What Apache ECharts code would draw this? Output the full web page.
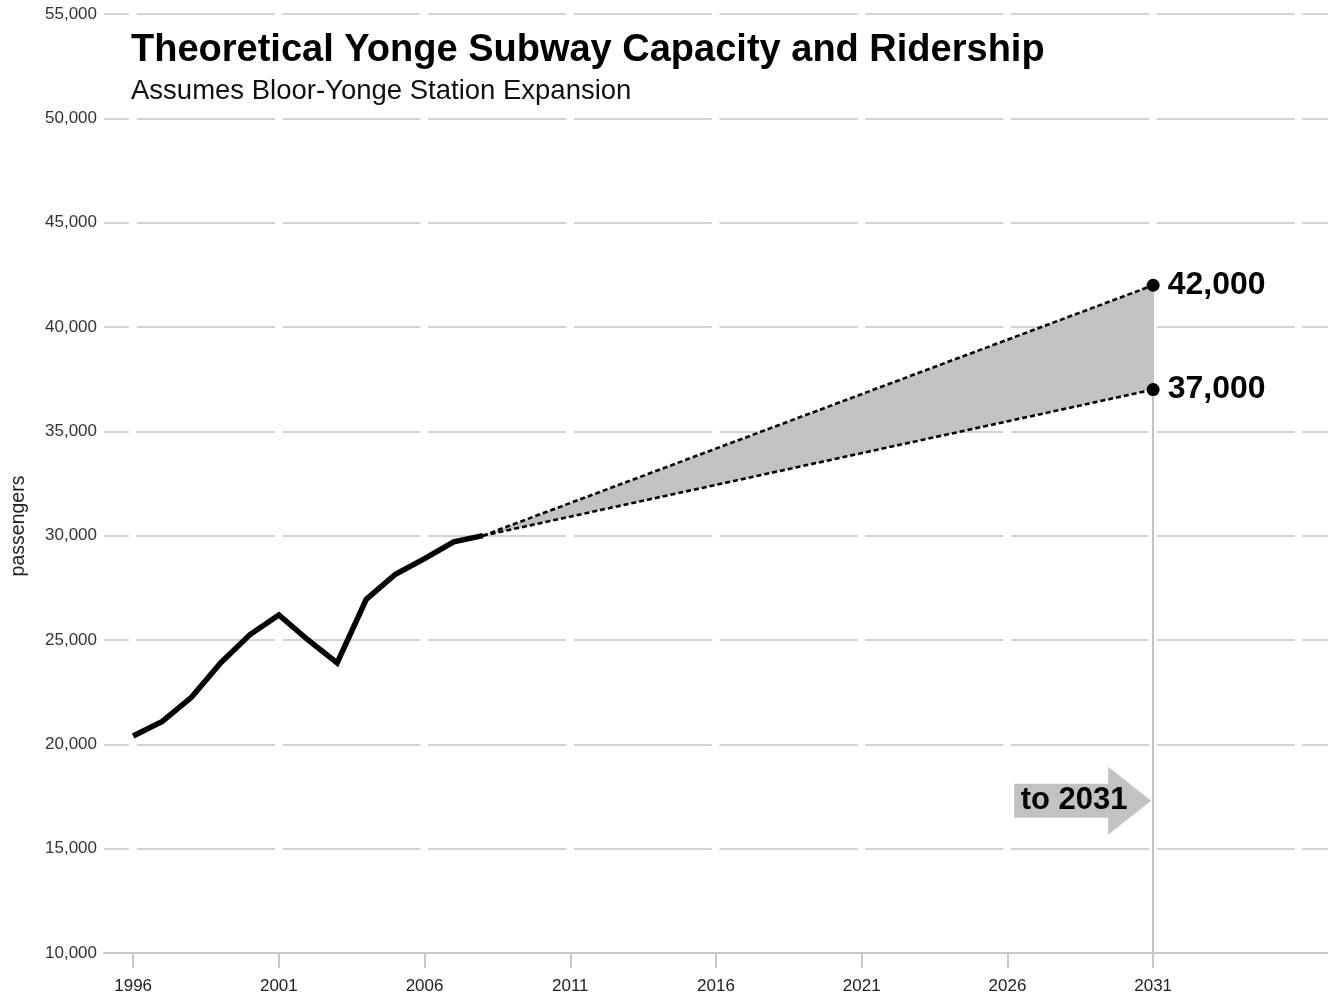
<!DOCTYPE html>
<html><head><meta charset="utf-8">
<script src="https://cdn.jsdelivr.net/npm/echarts@6/dist/echarts.min.js"></script>
<style>html,body{margin:0;padding:0;background:#fff}#c{width:1328px;height:996px}</style>
</head><body><div id="c"></div>
<script>
// ---- data ----
const years = [1996,1997,1998,1999,2000,2001,2002,2003,2004,2005,2006,2007,2008];
const ridership = [20400,21100,22250,23900,25250,26200,25000,23900,26950,28150,28900,29700,30000];
const projYears = [2008, 2031];
const projHigh = [30000, 42000];
const projLow = [30000, 37000];
const tickYears = [1996,2001,2006,2011,2016,2021,2026,2031];
const yMin = 10000, yMax = 55000, yStep = 5000;
const xMin = 1995, xMax = 2037;
const titleText = 'Theoretical Yonge Subway Capacity and Ridership';
const subtitleText = 'Assumes Bloor-Yonge Station Expansion';
const yName = 'passengers';
const arrowText = 'to 2031';
const arrowAt = [2031, 17300];

const FONT = '"Liberation Sans", Arial, Helvetica, sans-serif';
const GRAY = '#c2c2c2';
const fmt = v => v.toLocaleString('en-US');

const chart = echarts.init(document.getElementById('c'), null, {renderer: 'canvas'});

const lastIdx = projYears.length - 1;
function projPoints(vals) {
  return projYears.map((y, i) => ({
    value: [y, vals[i]],
    symbol: i === lastIdx ? 'circle' : 'none',
    label: {show: i === lastIdx}
  }));
}

chart.setOption({
  animation: false,
  textStyle: {fontFamily: FONT},
  title: {
    text: titleText,
    subtext: subtitleText,
    left: 126,
    top: 27,
    itemGap: 7,
    textStyle: {fontFamily: FONT, fontSize: 38, fontWeight: 'bold', color: '#000'},
    subtextStyle: {fontFamily: FONT, fontSize: 27.5, color: '#111'}
  },
  grid: {left: 104, right: 0, top: 14, bottom: 43, containLabel: false},
  xAxis: {
    type: 'value', min: xMin, max: xMax,
    axisLine: {show: true, lineStyle: {color: '#c8c8c8', width: 2}},
    axisTick: {show: true, customValues: tickYears, length: 15, lineStyle: {color: '#c8c8c8', width: 2}},
    axisLabel: {customValues: tickYears, fontSize: 17, color: '#222', margin: 25, fontFamily: FONT, formatter: v => String(v)},
    splitLine: {show: false}
  },
  yAxis: {
    type: 'value', min: yMin, max: yMax, interval: yStep,
    axisLine: {show: false}, axisTick: {show: false},
    axisLabel: {fontSize: 17, color: '#333', margin: 7, fontFamily: FONT, formatter: v => fmt(v)},
    splitLine: {show: true, lineStyle: {color: '#d2d2d2', width: 2, type: [138, 7.71], dashOffset: 113}}
  },
  series: [
    {
      type: 'custom', name: 'band', z: 1, silent: true,
      data: projYears.map((y, i) => [y, projLow[i], projHigh[i]]),
      encode: {x: 0, y: [1, 2]},
      renderItem: function (params, api) {
        if (params.dataIndex !== 0) return null;
        const pts = [];
        for (let i = 0; i < projYears.length; i++) pts.push(api.coord([projYears[i], projHigh[i]]));
        for (let i = projYears.length - 1; i >= 0; i--) pts.push(api.coord([projYears[i], projLow[i]]));
        return {type: 'polygon', shape: {points: pts}, style: {fill: GRAY}};
      }
    },
    {
      type: 'line', name: 'high', z: 3, silent: true,
      data: projPoints(projHigh),
      symbolSize: 13, showSymbol: true,
      itemStyle: {color: '#000'},
      lineStyle: {color: '#000', width: 2.6, type: [5, 3]},
      label: {position: 'right', distance: 8, fontSize: 32, fontWeight: 'bold', color: '#000', fontFamily: FONT,
              formatter: p => fmt(p.value[1])},
      markLine: {
        silent: true, symbol: 'none', z: 0,
        label: {show: false},
        lineStyle: {color: GRAY, width: 2, type: 'solid'},
        data: [[{coord: [projYears[lastIdx], yMin]}, {coord: [projYears[lastIdx], projHigh[lastIdx]]}]]
      }
    },
    {
      type: 'line', name: 'low', z: 3, silent: true,
      data: projPoints(projLow),
      symbolSize: 13, showSymbol: true,
      itemStyle: {color: '#000'},
      lineStyle: {color: '#000', width: 2.6, type: [5, 3]},
      label: {position: 'right', distance: 8, fontSize: 32, fontWeight: 'bold', color: '#000', fontFamily: FONT,
              formatter: p => fmt(p.value[1])}
    },
    {
      type: 'line', name: 'ridership', z: 4, silent: true,
      data: years.map((y, i) => [y, ridership[i]]),
      showSymbol: false, symbol: 'none',
      lineStyle: {color: '#000', width: 5.5, join: 'miter'}
    }
  ]
});

// arrow annotation positioned through the chart's scales
const tip = chart.convertToPixel({gridIndex: 0}, arrowAt);
const tx = tip[0] - 2, ty = tip[1];
chart.setOption({
  graphic: [
    {
      type: 'text', x: 19, y: 526, rotation: Math.PI / 2,
      style: {text: yName, font: '19.5px ' + FONT, fill: '#222', align: 'center', verticalAlign: 'middle'}
    },
    {
      type: 'polygon', z: 10,
      shape: {points: [
        [tx - 137, ty - 17], [tx - 43, ty - 17], [tx - 43, ty - 34], [tx, ty],
        [tx - 43, ty + 34], [tx - 43, ty + 17], [tx - 137, ty + 17]
      ]},
      style: {fill: GRAY}
    },
    {
      type: 'text', z: 11, x: tx - 77, y: ty,
      style: {text: arrowText, font: 'bold 31px ' + FONT, fill: '#000', align: 'center', verticalAlign: 'middle'}
    }
  ]
});
</script>
</body></html>
